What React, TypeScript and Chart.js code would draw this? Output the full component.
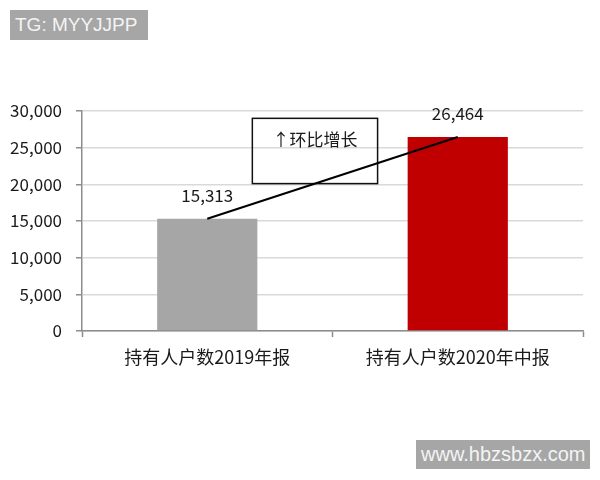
import React, { useEffect, useRef } from "react";
import { Chart, registerables } from "chart.js";

Chart.register(...registerables);

const categories = ["持有人户数2019年报", "持有人户数2020年中报"];
const holders = [15313, 26464];
const barColors = ["#a6a6a6", "#c00000"];
const yTicks = [0, 5000, 10000, 15000, 20000, 25000, 30000];
const noteText = "↑环比增长";
// note box in data space: [x from, x to] (category index), [y from, y to]
const noteX = [0.18, 0.68];
const noteY = [20100, 29000];

const FONT = "'Noto Sans CJK SC', 'Noto Sans', sans-serif";
const TEXT = "#1a1a1a";

const fmt = (v: number) => v.toLocaleString("en-US");

const overlayPlugin = {
  id: "overlay",
  afterDatasetsDraw(chart: any) {
    const ctx = chart.ctx;
    const meta = chart.getDatasetMeta(0);
    const xs = chart.scales.x;
    const ys = chart.scales.y;
    ctx.save();
    // note box
    const bx1 = xs.getPixelForValue(noteX[0]);
    const bx2 = xs.getPixelForValue(noteX[1]);
    const by1 = ys.getPixelForValue(noteY[1]);
    const by2 = ys.getPixelForValue(noteY[0]);
    ctx.strokeStyle = "#111";
    ctx.lineWidth = 1.5;
    ctx.strokeRect(bx1, by1, bx2 - bx1, by2 - by1);
    ctx.fillStyle = TEXT;
    ctx.font = `17px ${FONT}`;
    ctx.textAlign = "center";
    ctx.textBaseline = "middle";
    ctx.fillText(noteText, (bx1 + bx2) / 2, by1 + 21);
    // connecting line
    const p0 = meta.data[0];
    const p1 = meta.data[1];
    ctx.beginPath();
    ctx.moveTo(p0.x, p0.y);
    ctx.lineTo(p1.x, p1.y);
    ctx.strokeStyle = "#000";
    ctx.lineWidth = 2;
    ctx.stroke();
    // value labels
    ctx.font = `17px ${FONT}`;
    ctx.fillStyle = TEXT;
    meta.data.forEach((el: any, i: number) => {
      ctx.fillText(fmt(holders[i]), el.x, el.y - 23);
    });
    ctx.restore();
  },
};

export default function App() {
  const ref = useRef<HTMLCanvasElement>(null);
  useEffect(() => {
    if (!ref.current) return;
    const chart = new Chart(ref.current, {
      type: "bar",
      data: {
        labels: categories,
        datasets: [
          {
            data: holders,
            backgroundColor: barColors,
            barPercentage: 0.4,
            categoryPercentage: 1,
          },
        ],
      },
      options: {
        animation: false,
        responsive: false,
        layout: { padding: { left: 0, top: 111, right: 17, bottom: 0 } },
        plugins: { legend: { display: false }, tooltip: { enabled: false } },
        scales: {
          x: {
            afterFit: (s: any) => {
              s.height = 149;
            },
            grid: {
              display: true,
              drawOnChartArea: false,
              drawTicks: true,
              tickLength: 6,
              tickColor: "#8c8c8c",
              tickWidth: 1.5,
            },
            border: { color: "#8c8c8c", width: 1.5 },
            ticks: {
              color: TEXT,
              font: { family: FONT, size: 18 },
              padding: 9,
            },
          },
          y: {
            min: 0,
            max: 30000,
            afterFit: (s: any) => {
              s.width = 82;
            },
            afterBuildTicks: (s: any) => {
              s.ticks = yTicks.map((v) => ({ value: v }));
            },
            grid: {
              color: "#d9d9d9",
              lineWidth: 1.5,
              drawTicks: true,
              tickLength: 6,
              tickColor: "#8c8c8c",
              tickWidth: 1.5,
            },
            border: { color: "#8c8c8c", width: 1.5 },
            ticks: {
              color: TEXT,
              font: { family: FONT, size: 17 },
              padding: 14,
              callback: (v: any) => fmt(Number(v)),
            },
          },
        },
      },
      plugins: [overlayPlugin],
    });
    return () => chart.destroy();
  }, []);

  const tag: React.CSSProperties = {
    position: "absolute",
    background: "#a6a6a6",
    color: "#f4f4f4",
    fontFamily: "'Liberation Sans', Arial, sans-serif",
    display: "flex",
    alignItems: "center",
    boxSizing: "border-box",
  };

  return (
    <div style={{ position: "absolute", left: 0, top: 0, width: 600, height: 480, background: "#fff" }}>
      <canvas ref={ref} width={600} height={480} style={{ position: "absolute", left: 0, top: 0 }} />
      <div style={{ ...tag, left: 10, top: 10, width: 138, height: 30, fontSize: 19, paddingLeft: 5 }}>
        TG: MYYJJPP
      </div>
      <div style={{ ...tag, left: 416, top: 440, width: 174, height: 29, fontSize: 20, paddingLeft: 5 }}>
        www.hbzsbzx.com
      </div>
    </div>
  );
}
